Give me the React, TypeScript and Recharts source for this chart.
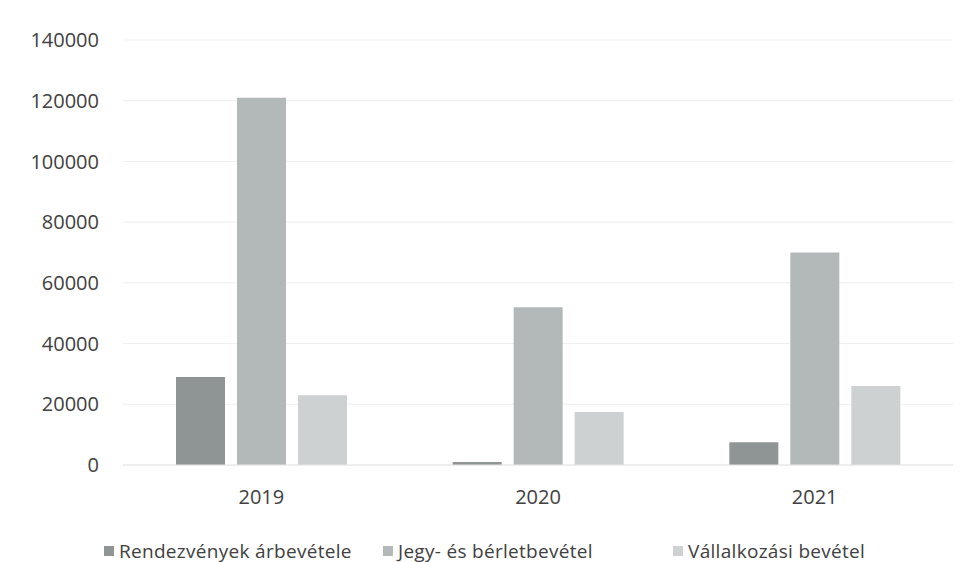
import { BarChart, Bar, XAxis, YAxis, CartesianGrid, Legend } from 'recharts';

// ─── Data ────────────────────────────────────────────────────────────────────

const years = ['2019', '2020', '2021'];
const rendezvenyek = [29000, 1000, 7500];
const jegyBerlet = [121000, 52000, 70000];
const vallalkozasi = [23000, 17500, 26000];
const yTicks = [0, 20000, 40000, 60000, 80000, 100000, 120000, 140000];

const SERIES = [
  { key: 'rendezvenyek', name: 'Rendezvények árbevétele', color: '#8f9494' },
  { key: 'jegyBerlet', name: 'Jegy- és bérletbevétel', color: '#b3b8b9' },
  { key: 'vallalkozasi', name: 'Vállalkozási bevétel', color: '#cdd1d2' },
];

const rows = years.map((year, i) => ({
  year,
  rendezvenyek: rendezvenyek[i],
  jegyBerlet: jegyBerlet[i],
  vallalkozasi: vallalkozasi[i],
}));

const FONT = '"Open Sans", "Liberation Sans", sans-serif';
const tickStyle = { fill: '#404040', fontSize: 20, fontFamily: FONT };

// legend item slots, roughly as wide as in the original
const legendWidths = [279, 290, 260];

function LegendRow() {
  return (
    <div
      style={{
        display: 'flex',
        alignItems: 'center',
        marginLeft: 96,
        height: 47,
        paddingTop: 24,
        boxSizing: 'border-box',
        fontFamily: FONT,
        fontSize: 19,
        letterSpacing: 0.3,
        color: '#404040',
        whiteSpace: 'nowrap',
      }}
    >
      {SERIES.map((s, i) => (
        <div key={s.key} style={{ display: 'flex', alignItems: 'center', width: legendWidths[i] }}>
          <span
            style={{ width: 10, height: 10, background: s.color, display: 'inline-block', marginRight: 5 }}
          />
          <span>{s.name}</span>
        </div>
      ))}
    </div>
  );
}

export default function App() {
  return (
    <BarChart
      width={965}
      height={554}
      data={rows}
      margin={{ top: 32, right: 20, bottom: 0, left: 0 }}
      barSize={49}
      barGap={12}
    >
      <CartesianGrid vertical={false} stroke="#efefef" strokeWidth={1} />
      <XAxis
        dataKey="year"
        height={50}
        tickLine={false}
        axisLine={{ stroke: '#e6e6e6' }}
        tickSize={0}
        tickMargin={25}
        tick={tickStyle}
      />
      <YAxis
        width={115}
        domain={[0, 140000]}
        ticks={yTicks}
        interval={0}
        axisLine={false}
        tickLine={false}
        tickSize={0}
        tickMargin={24}
        tick={tickStyle}
      />
      <Legend verticalAlign="bottom" height={47} content={() => <LegendRow />} />
      {SERIES.map((s) => (
        <Bar key={s.key} dataKey={s.key} name={s.name} fill={s.color} isAnimationActive={false} />
      ))}
    </BarChart>
  );
}
